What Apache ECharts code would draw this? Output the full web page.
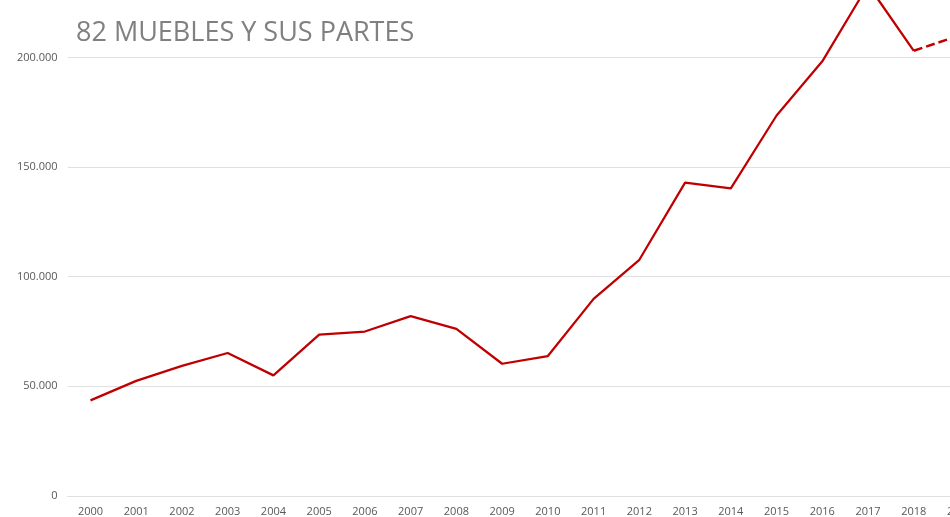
<!DOCTYPE html>
<html>
<head>
<meta charset="utf-8">
<script src="https://cdn.jsdelivr.net/npm/echarts@6/dist/echarts.min.js"></script>
<style>
  html, body { margin: 0; padding: 0; width: 950px; height: 517px; overflow: hidden; background: #fff; }
  #chart { position: absolute; left: 0; top: -100px; width: 1000px; height: 617px; }
</style>
</head>
<body>
<div id="chart"></div>
<script>
const years = ["2000", "2001", "2002", "2003", "2004", "2005", "2006", "2007", "2008", "2009",
  "2010", "2011", "2012", "2013", "2014", "2015", "2016", "2017", "2018", "2019"];
const values = [43600, 52500, 59300, 65200, 55000, 73600, 75000, 82000, 76200, 60300,
  63800, 89900, 107700, 142900, 140300, 173500, 198200, 233000, 203000, 210000];
// last year is an estimate, drawn dashed from the year before
const lastActual = 18;
const yTicks = [0, 50000, 100000, 150000, 200000, 250000];

const solid = values.map((v, i) => (i <= lastActual ? v : null));
const dashed = values.map((v, i) => (i >= lastActual ? v : null));

function fmt(v) {
  return String(v).replace(/\B(?=(\d{3})+(?!\d))/g, ".");
}

const chart = echarts.init(document.getElementById("chart"), null, { renderer: "canvas" });
chart.setOption({
  animation: false,
  title: {
    text: "82 MUEBLES Y SUS PARTES",
    left: 71, top: 115,
    textStyle: { fontFamily: "Open Sans", fontSize: 27, fontWeight: "normal", color: "#808080" },
  },
  grid: { left: 67.6, right: 17.6, top: 47.7, bottom: 19.3, containLabel: false },
  xAxis: {
    type: "category", data: years, boundaryGap: true,
    axisLine: { show: true, lineStyle: { color: "#e0e0e0", width: 1 } },
    axisTick: { show: false },
    axisLabel: { color: "#595959", fontFamily: "Open Sans", fontSize: 11, margin: 10, interval: 0 },
  },
  yAxis: {
    type: "value", min: yTicks[0], max: yTicks[yTicks.length - 1], interval: yTicks[1] - yTicks[0],
    axisLine: { show: false }, axisTick: { show: false },
    splitLine: { lineStyle: { color: "#e0e0e0", width: 1 } },
    axisLabel: { color: "#595959", fontFamily: "Open Sans", fontSize: 11, margin: 10, formatter: fmt },
  },
  series: [
    {
      type: "line", data: solid, showSymbol: false, smooth: false,
      lineStyle: { color: "#C00000", width: 2.25 }, itemStyle: { color: "#C00000" },
    },
    {
      type: "line", data: dashed, showSymbol: false, smooth: false,
      lineStyle: { color: "#C00000", width: 2.5, type: [9, 4] }, itemStyle: { color: "#C00000" },
    },
  ],
});
</script>
</body>
</html>
